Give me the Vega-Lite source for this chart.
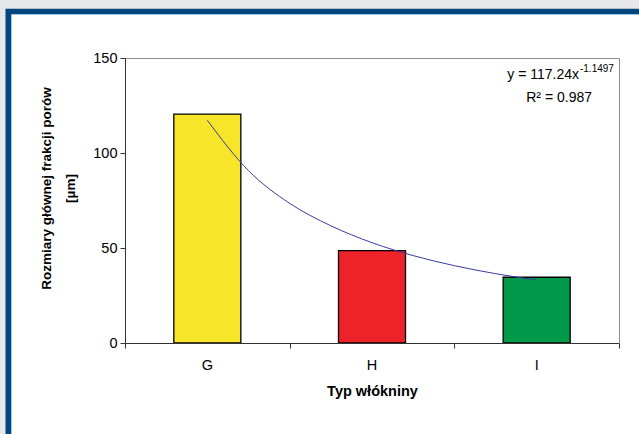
{
  "$schema": "https://vega.github.io/schema/vega-lite/v6.json",
  "width": 494,
  "height": 285,
  "autosize": {"type": "none"},
  "padding": {"left": 125, "top": 58, "right": 20, "bottom": 91},
  "background": "#e6e7e9",
  "config": {"view": {"stroke": null}, "font": "Liberation Sans"},
  "datasets": {
    "bars": [
      {"typ": "G", "rozmiar": 120.5},
      {"typ": "H", "rozmiar": 48.6},
      {"typ": "I", "rozmiar": 34.6}
    ],
    "trend": [
      {"x": 1.0, "y": 117.2},
      {"x": 1.25, "y": 90.7},
      {"x": 1.5, "y": 73.5},
      {"x": 1.75, "y": 61.7},
      {"x": 2.0, "y": 52.8},
      {"x": 2.25, "y": 46.0},
      {"x": 2.5, "y": 40.7},
      {"x": 2.75, "y": 36.5},
      {"x": 3.0, "y": 33.1}
    ]
  },
  "layer": [
    {
      "data": {"values": [{}]},
      "layer": [
        {
          "mark": {"type": "rect", "fill": "white", "stroke": "#00467f", "strokeWidth": 6},
          "encoding": {
            "x": {
              "datum": -0.2075, "type": "quantitative", "scale": {"domain": [0.5, 3.5]},
              "axis": {"orient": "top", "zindex": 1, "domain": true, "domainColor": "#8c8c8c", "domainWidth": 1, "ticks": false, "labels": false, "grid": false, "title": null}
            },
            "x2": {"datum": 4.4},
            "y": {
              "datum": 174.3, "type": "quantitative", "scale": {"domain": [0, 150]},
              "axis": {"orient": "right", "zindex": 1, "domain": true, "domainColor": "#8c8c8c", "domainWidth": 1, "ticks": false, "labels": false, "grid": false, "title": null}
            },
            "y2": {"datum": -90}
          }
        },
        {
          "mark": {"type": "rect", "fill": null, "stroke": "#a8c4de", "strokeWidth": 1},
          "encoding": {
            "x": {"datum": -0.1893, "type": "quantitative", "scale": {"domain": [0.5, 3.5]}},
            "x2": {"datum": 4.4},
            "y": {"datum": 172.9, "type": "quantitative", "scale": {"domain": [0, 150]}},
            "y2": {"datum": -90}
          }
        }
      ]
    },
    {
      "data": {"name": "bars"},
      "mark": {"type": "bar", "stroke": "#000000", "strokeWidth": 1.3},
      "encoding": {
        "x": {
          "field": "typ",
          "type": "nominal",
          "scale": {"paddingInner": 0.593, "paddingOuter": 0.2965},
          "axis": {
            "zindex": 1,
            "labelAngle": 0,
            "ticks": false,
            "domainColor": "#333333",
            "labelFontSize": 14.5,
            "labelColor": "#000000",
            "labelPadding": 15,
            "title": "Typ włókniny",
            "titleFontSize": 14.5,
            "titleFontWeight": "bold",
            "titleColor": "#000000",
            "titlePadding": 13,
            "grid": false
          }
        },
        "y": {
          "field": "rozmiar",
          "type": "quantitative",
          "scale": {"domain": [0, 150]},
          "axis": {
            "zindex": 1,
            "values": [0, 50, 100, 150],
            "grid": false,
            "domainColor": "#333333",
            "tickColor": "#333333",
            "tickSize": 5,
            "labelFontSize": 14.5,
            "labelColor": "#000000",
            "labelPadding": 3,
            "title": ["Rozmiary głównej frakcji porów", "[µm]"],
            "titleFontSize": 13.5,
            "titleFontWeight": "bold",
            "titleColor": "#000000",
            "titleLineHeight": 24,
            "titlePadding": 15,
            "titleY": 130
          }
        },
        "color": {
          "field": "typ",
          "type": "nominal",
          "scale": {"domain": ["G", "H", "I"], "range": ["#f7e52a", "#ee2229", "#009a4a"]},
          "legend": null
        }
      }
    },
    {
      "layer": [
        {
          "data": {"name": "trend"},
          "mark": {"type": "line", "color": "#3a3aa0", "strokeWidth": 1, "interpolate": "monotone"},
          "encoding": {
            "x": {
              "field": "x",
              "type": "quantitative",
              "scale": {"domain": [0.5, 3.5], "nice": false, "zero": false},
              "axis": {
                "zindex": 1,
                "orient": "bottom",
                "values": [0.5, 1.5, 2.5, 3.5],
                "labels": false,
                "domain": false,
                "grid": false,
                "ticks": true,
                "tickSize": 5,
                "tickColor": "#333333",
                "title": null
              }
            },
            "y": {"field": "y", "type": "quantitative", "scale": {"domain": [0, 150]}, "axis": null}
          }
        },
        {
          "data": {"values": [{}]},
          "mark": {"type": "text", "text": "y = 117.24x", "align": "right", "baseline": "alphabetic", "fontSize": 14, "color": "#000000"},
          "encoding": {
            "x": {"datum": 3.257, "type": "quantitative", "scale": {"domain": [0.5, 3.5]}},
            "y": {"datum": 138.7, "type": "quantitative", "scale": {"domain": [0, 150]}}
          }
        },
        {
          "data": {"values": [{}]},
          "mark": {"type": "text", "text": "-1.1497", "align": "left", "baseline": "alphabetic", "fontSize": 10, "color": "#000000"},
          "encoding": {
            "x": {"datum": 3.263, "type": "quantitative", "scale": {"domain": [0.5, 3.5]}},
            "y": {"datum": 142.6, "type": "quantitative", "scale": {"domain": [0, 150]}}
          }
        },
        {
          "data": {"values": [{}]},
          "mark": {"type": "text", "text": "R² = 0.987", "align": "right", "baseline": "alphabetic", "fontSize": 14, "color": "#000000"},
          "encoding": {
            "x": {"datum": 3.336, "type": "quantitative", "scale": {"domain": [0.5, 3.5]}},
            "y": {"datum": 127.0, "type": "quantitative", "scale": {"domain": [0, 150]}}
          }
        }
      ]
    }
  ],
  "resolve": {"scale": {"x": "independent", "y": "independent"}}
}
